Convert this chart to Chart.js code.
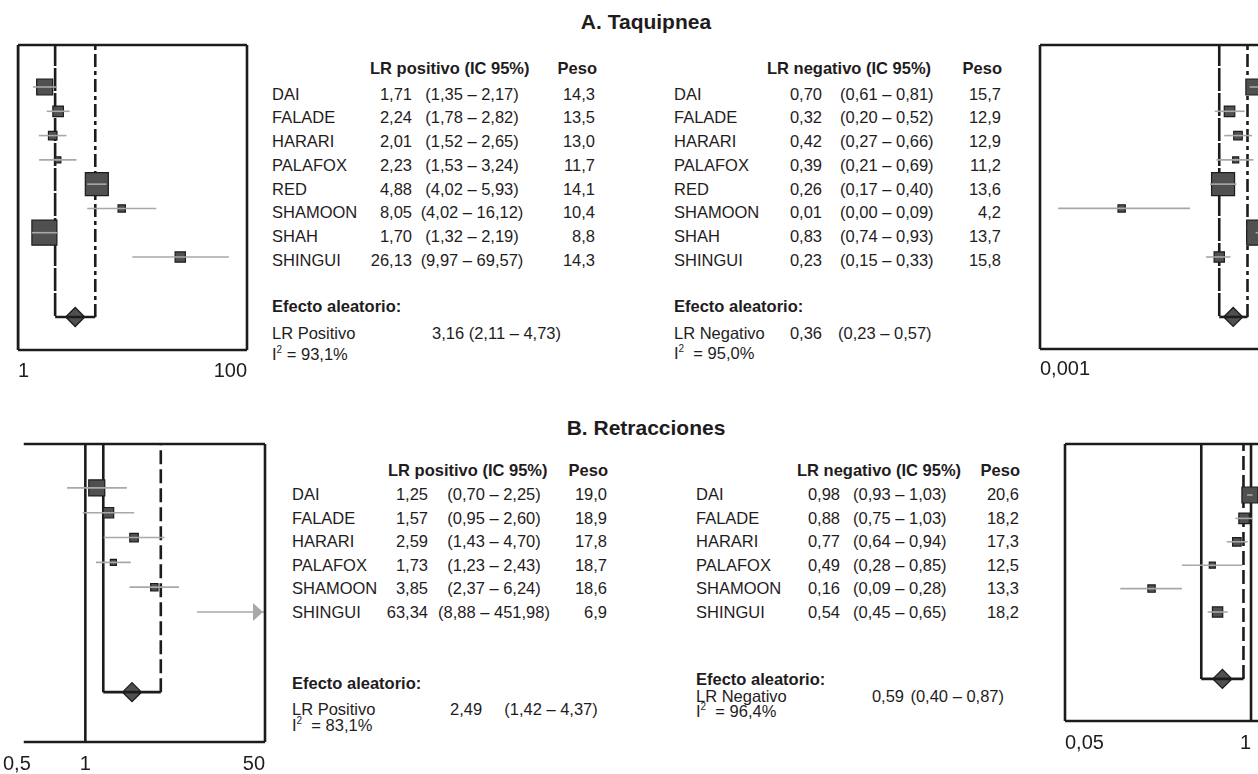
<!DOCTYPE html>
<html>
<head>
<meta charset="utf-8">
<script src="https://cdn.jsdelivr.net/npm/chart.js@4.4.1/dist/chart.umd.min.js"></script>
<style>
  html, body { margin: 0; padding: 0; width: 1258px; height: 774px; overflow: hidden; background: #fff; }
  body { position: relative; font-family: "Liberation Sans", Arial, sans-serif; color: #1f1c1d; }
  .t { position: absolute; white-space: pre; font-size: 16.5px; line-height: 20px; height: 20px; }
  .b { font-weight: bold; }
  .title { font-size: 21px; font-weight: bold; }
  .t sup { font-size: 10px; line-height: 0; vertical-align: 7px; }
  .plot { position: absolute; }
</style>
</head>
<body>
<div class="plot" style="left:0px;top:35px"><canvas id="pA1" width="262" height="350"></canvas></div>
<div class="plot" style="left:1030px;top:35px"><canvas id="pA2" width="280" height="350"></canvas></div>
<div class="plot" style="left:0px;top:434px"><canvas id="pB1" width="280" height="340"></canvas></div>
<div class="plot" style="left:1055px;top:434px"><canvas id="pB2" width="260" height="330"></canvas></div>
<script>
// ---- A. Taquipnea ----
const studiesA   = ['DAI', 'FALADE', 'HARARI', 'PALAFOX', 'RED', 'SHAMOON', 'SHAH', 'SHINGUI'];
const lrPosA     = [1.71, 2.24, 2.01, 2.23, 4.88, 8.05, 1.70, 26.13];
const lrPosLoA   = [1.35, 1.78, 1.52, 1.53, 4.02, 4.02, 1.32, 9.97];
const lrPosHiA   = [2.17, 2.82, 2.65, 3.24, 5.93, 16.12, 2.19, 69.57];
const pesoPosA   = [14.3, 13.5, 13.0, 11.7, 14.1, 10.4, 8.8, 14.3];
const pooledPosA = [3.16, 2.11, 4.73];   // estimate, lower, upper
const i2PosA     = 93.1;

const lrNegA     = [0.70, 0.32, 0.42, 0.39, 0.26, 0.01, 0.83, 0.23];
const lrNegLoA   = [0.61, 0.20, 0.27, 0.21, 0.17, 0.0013, 0.74, 0.15];
const lrNegHiA   = [0.81, 0.52, 0.66, 0.69, 0.40, 0.09, 0.93, 0.33];
const pesoNegA   = [15.7, 12.9, 12.9, 11.2, 13.6, 4.2, 13.7, 15.8];
const pooledNegA = [0.36, 0.23, 0.57];
const i2NegA     = 95.0;

// ---- B. Retracciones ----
const studiesB   = ['DAI', 'FALADE', 'HARARI', 'PALAFOX', 'SHAMOON', 'SHINGUI'];
const lrPosB     = [1.25, 1.57, 2.59, 1.73, 3.85, 63.34];
const lrPosLoB   = [0.70, 0.95, 1.43, 1.23, 2.37, 8.88];
const lrPosHiB   = [2.25, 2.60, 4.70, 2.43, 6.24, 451.98];
const pesoPosB   = [19.0, 18.9, 17.8, 18.7, 18.6, 6.9];
const pooledPosB = [2.49, 1.42, 4.37];
const i2PosB     = 83.1;

const lrNegB     = [0.98, 0.88, 0.77, 0.49, 0.16, 0.54];
const lrNegLoB   = [0.93, 0.75, 0.64, 0.28, 0.09, 0.45];
const lrNegHiB   = [1.03, 1.03, 0.94, 0.85, 0.28, 0.65];
const pesoNegB   = [20.6, 18.2, 17.3, 12.5, 13.3, 18.2];
const pooledNegB = [0.59, 0.40, 0.87];
const i2NegB     = 96.4;

// axis tick labels
const ticksPosA = ['1', '100'];
const ticksNegA = ['0,001', ''];
const ticksPosB = ['0,5', '1', '50'];
const ticksNegB = ['0,05', '1'];

// marker side length (px) per study
const BOX_SIDE = { DAI: 16, FALADE: 10.5, HARARI: 8.5, PALAFOX: 6, RED: 23, SHAMOON: 7.3, SHAH: 25, SHINGUI: 10.3 };

const FONT = '"Liberation Sans", Arial, sans-serif';
const INK = '#1c1c1c';
const BOX_FILL = '#505050';
const CI_GREY = '#a8a8a8';

const fmt2 = v => v.toFixed(2).replace('.', ',');
const fmt1 = v => v.toFixed(1).replace('.', ',');
const ci = (lo, hi) => '(' + fmt2(lo) + ' – ' + fmt2(hi) + ')';

// ---------- text ----------
function txt(html, x, y, align, cls) {
  const d = document.createElement('div');
  d.className = 't' + (cls ? ' ' + cls : '');
  d.innerHTML = html;
  d.style.left = x + 'px';
  d.style.top = (y - 10) + 'px';
  if (align === 'right') d.style.transform = 'translateX(-100%)';
  else if (align === 'center') d.style.transform = 'translateX(-50%)';
  document.body.appendChild(d);
}

function table(studies, lr, lo, hi, peso, L) {
  txt(L.header, L.headL, L.headY, 'left', 'b');
  txt('Peso', L.pesoHeadR, L.headY, 'right', 'b');
  studies.forEach((s, i) => {
    const y = L.row0 + i * L.step;
    txt(s, L.nameL, y, 'left');
    txt(fmt2(lr[i]), L.valR, y, 'right');
    txt(ci(lo[i], hi[i]), L.ciX, y, L.ciAlign);
    txt(fmt1(peso[i]), L.pesoR, y, 'right');
  });
  txt('Efecto aleatorio:', L.nameL, L.effY, 'left', 'b');
}

txt('A. Taquipnea', 646, 22, 'center', 'title');
txt('B. Retracciones', 646, 428, 'center', 'title');

table(studiesA, lrPosA, lrPosLoA, lrPosHiA, pesoPosA, {
  header: 'LR positivo (IC 95%)', headL: 370, pesoHeadR: 597, headY: 67.5,
  nameL: 272, valR: 412, ciX: 472, ciAlign: 'center', pesoR: 595,
  row0: 93.5, step: 23.75, effY: 305.5
});
txt('LR Positivo', 272, 333, 'left');
txt(fmt2(pooledPosA[0]) + ' ' + ci(pooledPosA[1], pooledPosA[2]), 432, 333, 'left');
txt('I<sup>2</sup> = ' + fmt1(i2PosA) + '%', 272, 353.5, 'left');

table(studiesA, lrNegA, lrNegLoA, lrNegHiA, pesoNegA, {
  header: 'LR negativo (IC 95%)', headL: 767, pesoHeadR: 1002, headY: 67.5,
  nameL: 674, valR: 822, ciX: 840, ciAlign: 'left', pesoR: 1001,
  row0: 93.5, step: 23.75, effY: 305.5
});
txt('LR Negativo', 674, 333, 'left');
txt(fmt2(pooledNegA[0]), 822, 333, 'right');
txt(ci(pooledNegA[1], pooledNegA[2]), 838, 333, 'left');
txt('I<sup>2</sup>  = ' + fmt1(i2NegA) + '%', 674, 352.5, 'left');

table(studiesB, lrPosB, lrPosLoB, lrPosHiB, pesoPosB, {
  header: 'LR positivo (IC 95%)', headL: 388, pesoHeadR: 608, headY: 470,
  nameL: 292, valR: 428, ciX: 494, ciAlign: 'center', pesoR: 607,
  row0: 494, step: 23.5, effY: 683
});
txt('LR Positivo', 292, 709, 'left');
txt(fmt2(pooledPosB[0]), 450, 709, 'left');
txt(ci(pooledPosB[1], pooledPosB[2]), 551, 709, 'center');
txt('I<sup>2</sup>  = ' + fmt1(i2PosB) + '%', 292, 724.5, 'left');

table(studiesB, lrNegB, lrNegLoB, lrNegHiB, pesoNegB, {
  header: 'LR negativo (IC 95%)', headL: 797, pesoHeadR: 1020, headY: 470,
  nameL: 696, valR: 840, ciX: 853, ciAlign: 'left', pesoR: 1019,
  row0: 494, step: 23.5, effY: 679
});
txt('LR Negativo', 696, 695.5, 'left');
txt(fmt2(pooledNegB[0]), 904, 695.5, 'right');
txt(ci(pooledNegB[1], pooledNegB[2]), 1004, 695.5, 'right');
txt('I<sup>2</sup>  = ' + fmt1(i2NegB) + '%', 696, 710.5, 'left');

// ---------- forest plots ----------
// frame: top/bottom rules plus chosen vertical sides; arrowheads for intervals running off-scale
const framePlugin = {
  id: 'forestFrame',
  afterDatasetsDraw(chart, args, opts) {
    const { ctx, chartArea: a, scales: { x, y } } = chart;
    ctx.save();
    ctx.strokeStyle = INK;
    ctx.lineWidth = 2.6;
    ctx.lineCap = 'butt';
    const x0 = opts.frameFrom ? x.getPixelForValue(opts.frameFrom) : a.left;
    ctx.beginPath();
    ctx.moveTo(x0, a.top); ctx.lineTo(a.right, a.top);
    ctx.moveTo(x0, a.bottom); ctx.lineTo(a.right, a.bottom);
    if (opts.sides.includes('left')) { ctx.moveTo(a.left, a.top); ctx.lineTo(a.left, a.bottom); }
    if (opts.sides.includes('right')) { ctx.moveTo(a.right, a.top); ctx.lineTo(a.right, a.bottom); }
    ctx.stroke();
    // arrowheads
    ctx.fillStyle = CI_GREY;
    opts.hi.forEach((h, i) => {
      if (h > x.max) {
        const py = y.getPixelForValue(i);
        const tip = a.right - 2;
        ctx.beginPath();
        ctx.moveTo(tip, py);
        ctx.lineTo(tip - 10, py - 9);
        ctx.lineTo(tip - 10, py + 9);
        ctx.closePath();
        ctx.fill();
      }
    });
    ctx.restore();
  }
};

function forest(id, P) {
  const n = P.studies.length;
  const datasets = [];
  // confidence intervals (drawn over the boxes)
  for (let i = 0; i < n; i++) {
    datasets.push({
      type: 'line', order: 0,
      data: [{ x: P.lo[i], y: i }, { x: P.hi[i], y: i }],
      borderColor: CI_GREY, borderWidth: 1.6, pointRadius: 0
    });
  }
  // study estimates
  datasets.push({
    type: 'scatter', order: 1,
    data: P.lr.map((v, i) => ({ x: v, y: i })),
    pointStyle: 'rect',
    pointRadius: P.studies.map(s => BOX_SIDE[s] / Math.SQRT2),
    backgroundColor: BOX_FILL, borderColor: INK, borderWidth: 1.2
  });
  // pooled interval bracket
  datasets.push({
    type: 'line', order: 2,
    data: [
      { x: P.pooled[1], y: P.yMin }, { x: P.pooled[1], y: P.dRow },
      { x: P.pooled[2], y: P.dRow }, { x: P.pooled[2], y: P.yMin }
    ],
    borderColor: INK, borderWidth: 2.6, pointRadius: 0, borderCapStyle: 'butt',
    segment: { borderDash: c => (c.p0DataIndex === 1 ? [] : P.dash) }
  });
  // pooled estimate diamond
  datasets.push({
    type: 'scatter', order: 3,
    data: [{ x: P.pooled[0], y: P.dRow }],
    pointStyle: 'rectRot', pointRadius: 9.5,
    backgroundColor: BOX_FILL, borderColor: INK, borderWidth: 1.3
  });
  // line of no effect
  datasets.push({
    type: 'line', order: 4,
    data: [{ x: 1, y: P.yMin }, { x: 1, y: P.yMax }],
    borderColor: INK, borderWidth: 2.6, pointRadius: 0
  });

  new Chart(document.getElementById(id), {
    type: 'scatter',
    data: { datasets },
    plugins: [framePlugin],
    options: {
      responsive: false, animation: false, events: [],
      layout: { autoPadding: false, padding: { left: P.pad[0], right: P.pad[1], top: P.pad[2], bottom: 0 } },
      plugins: {
        legend: { display: false }, tooltip: { enabled: false },
        forestFrame: { sides: P.sides, frameFrom: P.frameFrom, hi: P.hi }
      },
      scales: {
        x: {
          type: 'logarithmic', min: P.xMin, max: P.xMax, position: 'bottom',
          grid: { display: false, drawTicks: false }, border: { display: false },
          afterBuildTicks: s => { s.ticks = P.tickVals.map(v => ({ value: v })); },
          afterFit: s => { s.height = P.axisH; s.paddingLeft = 0; s.paddingRight = 0; },
          ticks: {
            align: 'inner', autoSkip: false, maxRotation: 0, padding: P.tickPad,
            color: '#1f1c1d', font: { family: FONT, size: 20 },
            callback: (v, i) => P.tickLabels[i]
          }
        },
        y: { type: 'linear', min: P.yMin, max: P.yMax, reverse: true, display: false }
      }
    }
  });
}

forest('pA1', {
  studies: studiesA, lr: lrPosA, lo: lrPosLoA, hi: lrPosHiA, pooled: pooledPosA,
  xMin: 1, xMax: 100, tickVals: [1, 100], tickLabels: ticksPosA,
  yMin: -1.73, yMax: 10.83, dRow: 9.47,
  pad: [18, 15, 10], axisH: 35, tickPad: 9, sides: ['left', 'right'], dash: [13, 4, 4, 4]
});
forest('pA2', {
  studies: studiesA, lr: lrNegA, lo: lrNegLoA, hi: lrNegHiA, pooled: pooledNegA,
  xMin: 0.000726, xMax: 1, tickVals: [0.000726, 1], tickLabels: ticksNegA,
  yMin: -1.73, yMax: 10.79, dRow: 9.47,
  pad: [10, 45, 10], axisH: 36, tickPad: 8, sides: ['left'], dash: [13, 4, 4, 4]
});
forest('pB1', {
  studies: studiesB, lr: lrPosB, lo: lrPosLoB, hi: lrPosHiB, pooled: pooledPosB,
  xMin: 0.2, xMax: 33.5, tickVals: [0.2, 1, 33.5], tickLabels: ticksPosB, frameFrom: 0.3,
  yMin: -1.77, yMax: 10.24, dRow: 8.23,
  pad: [3, 15, 10], axisH: 32, tickPad: 10, sides: ['right'], dash: [14, 5]
});
forest('pB2', {
  studies: studiesB, lr: lrNegB, lo: lrNegLoB, hi: lrNegHiB, pooled: pooledNegB,
  xMin: 0.0325, xMax: 2.05, tickVals: [0.0325, 1], tickLabels: ticksNegB,
  yMin: -2.18, yMax: 9.66, dRow: 7.86,
  pad: [10, 25, 10], axisH: 43, tickPad: 10, sides: ['left'], dash: [14, 5]
});
</script>
</body>
</html>
